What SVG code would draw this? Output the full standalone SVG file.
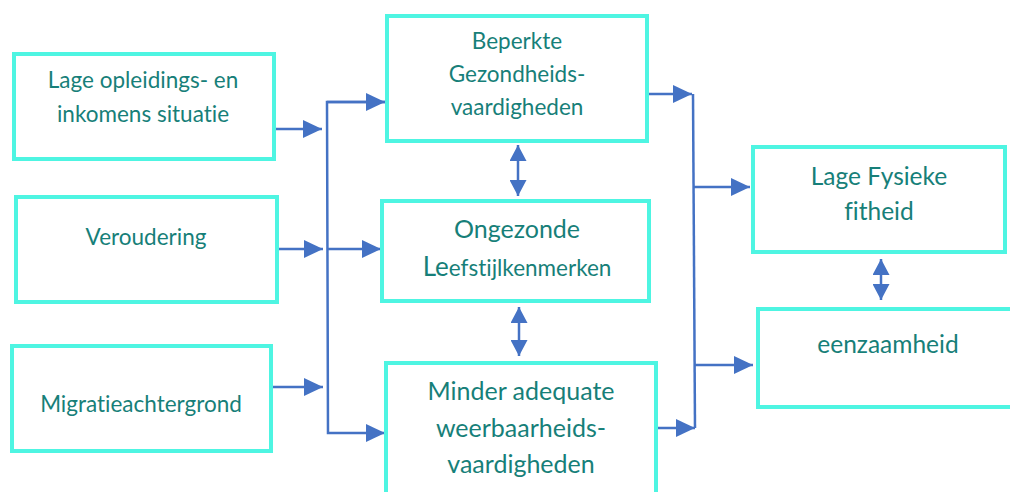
<svg xmlns="http://www.w3.org/2000/svg" width="1010" height="492" viewBox="0 0 1010 492">
<defs>
<style>
.box{fill:#ffffff;stroke:#4ef5e2;stroke-width:4}
.t{font-family:Lato,"Noto Sans",sans-serif;fill:#177f79;text-anchor:middle;font-variant-ligatures:none}
.s{font-size:22.5px}
.m{font-size:25px}
.r{font-size:24.5px}
.c{stroke:#4472c4;stroke-width:2.5;fill:none}
</style>
<marker id="ah2" viewBox="0 0 10 10" refX="10" refY="5" markerWidth="19" markerHeight="18" markerUnits="userSpaceOnUse" orient="auto-start-reverse" preserveAspectRatio="none">
<path d="M0,0 L10,5 L0,10 z" fill="#4472c4"/>
</marker>
<marker id="ah3" viewBox="0 0 10 10" refX="10" refY="5" markerWidth="16" markerHeight="17" markerUnits="userSpaceOnUse" orient="auto-start-reverse" preserveAspectRatio="none">
<path d="M0,0 L10,5 L0,10 z" fill="#4472c4"/>
</marker>
</defs>
<rect width="1010" height="492" fill="#ffffff"/>
<g id="connectors">
<line class="c" x1="275" y1="129" x2="322" y2="129" marker-end="url(#ah2)"/>
<line class="c" x1="278" y1="249" x2="323" y2="249" marker-end="url(#ah2)"/>
<line class="c" x1="272" y1="387" x2="323" y2="387" marker-end="url(#ah2)"/>
<polyline class="c" points="385,102 327,102 328,433 385,433" marker-end="url(#ah2)"/>
<line class="c" x1="327" y1="102" x2="385" y2="102" marker-end="url(#ah2)"/>
<line class="c" x1="328" y1="249" x2="381" y2="249" marker-end="url(#ah2)"/>
<line class="c" x1="518" y1="145" x2="518" y2="196" marker-start="url(#ah3)" marker-end="url(#ah3)"/>
<line class="c" x1="519" y1="307" x2="519" y2="356" marker-start="url(#ah3)" marker-end="url(#ah3)"/>
<line class="c" x1="643" y1="94" x2="692" y2="94" marker-end="url(#ah2)"/>
<line class="c" x1="656" y1="428" x2="695" y2="428" marker-end="url(#ah2)"/>
<polyline class="c" points="693,94 695,428"/>
<line class="c" x1="694" y1="187" x2="750" y2="187" marker-end="url(#ah2)"/>
<line class="c" x1="695" y1="365" x2="753" y2="365" marker-end="url(#ah2)"/>
<line class="c" x1="881" y1="259" x2="881" y2="300" marker-start="url(#ah3)" marker-end="url(#ah3)"/>
</g>
<g id="n1">
<rect class="box" x="14" y="54" width="260" height="105"/>
<text class="t s" x="143" y="88">Lage opleidings- en</text>
<text class="t s" x="143" y="122">inkomens situatie</text>
</g>
<g id="n2">
<rect class="box" x="16" y="197" width="261" height="105"/>
<text class="t s" x="146" y="245">Veroudering</text>
</g>
<g id="n3">
<rect class="box" x="12" y="346" width="259" height="105"/>
<text class="t s" x="141" y="412">Migratieachtergrond</text>
</g>
<g id="n4">
<rect class="box" x="387" y="16" width="260" height="125"/>
<text class="t s" x="517" y="49">Beperkte</text>
<text class="t s" x="517" y="82">Gezondheids-</text>
<text class="t s" x="517" y="115">vaardigheden</text>
</g>
<g id="n5">
<rect class="box" x="382" y="201" width="267" height="100"/>
<text class="t m" x="517" y="238">Ongezonde</text>
<text class="t s" x="517" y="276"><tspan font-size="26px">Le</tspan>efstijlkenmerken</text>
</g>
<g id="n6">
<rect class="box" x="386" y="363" width="270" height="135"/>
<text class="t m" x="521" y="400" font-size="26px">Minder adequate</text>
<text class="t m" x="521" y="437" font-size="26px">weerbaarheids-</text>
<text class="t m" x="521" y="473" font-size="26px">vaardigheden</text>
</g>
<g id="n7">
<rect class="box" x="753" y="147" width="252" height="105"/>
<text class="t r" x="879" y="185">Lage Fysieke</text>
<text class="t r" x="879" y="220">fitheid</text>
</g>
<g id="n8">
<rect class="box" x="758" y="309" width="254" height="98"/>
<text class="t r" x="888" y="353" font-size="25.5px">eenzaamheid</text>
</g>
</svg>
